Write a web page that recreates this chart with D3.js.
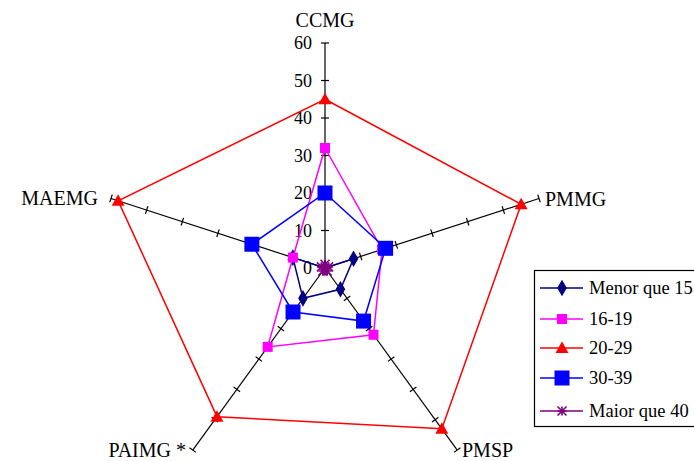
<!DOCTYPE html>
<html>
<head>
<meta charset="utf-8">
<script src="https://cdn.jsdelivr.net/npm/d3@7/dist/d3.min.js"></script>
<style>
  html, body { margin: 0; padding: 0; background: #fff; }
  svg { display: block; font-family: "Liberation Serif", "Times New Roman", serif; }
</style>
</head>
<body>
<svg id="chart" width="694" height="461"></svg>
<script>
// Axes of the radar, clockwise from the top
const categories = ["CCMG", "PMMG", "PMSP", "PAIMG *", "MAEMG"];
const tickValues = [0, 10, 20, 30, 40, 50, 60];

// Series (age groups)
const seriesNames = ["Menor que 15", "16-19", "20-29", "30-39", "Maior que 40"];
const menorQue15 = [0, 8, 7, 10, 9];
const de16a19 = [32, 16, 22, 26, 9];
const de20a29 = [45, 55, 53, 49, 58];
const de30a39 = [20, 17, 17.5, 14.5, 20.5];
const maiorQue40 = [1, 1, 1, 1, 1];

const seriesValues = [menorQue15, de16a19, de20a29, de30a39, maiorQue40];
const seriesColors = ["#000080", "#ff00ff", "#ff0000", "#0000ff", "#800080"];
const seriesMarkers = ["diamond", "smallSquare", "triangle", "square", "star"];

const svg = d3.select("#chart");
const cx = 325, cy = 268;
const r = d3.scaleLinear().domain([0, 60]).range([0, 225]);
const angle = d3.scaleLinear().domain([0, categories.length]).range([0, 2 * Math.PI]);

function pt(i, v) {
  const a = angle(i);
  return [cx + r(v) * Math.sin(a), cy - r(v) * Math.cos(a)];
}

// Axis spokes with perpendicular ticks
const axes = svg.append("g").attr("stroke", "#000").attr("stroke-width", 1.2);
categories.forEach((c, i) => {
  const [x2, y2] = pt(i, 60);
  axes.append("line").attr("x1", cx).attr("y1", cy).attr("x2", x2).attr("y2", y2);
  const a = angle(i);
  const px = Math.cos(a), py = Math.sin(a); // perpendicular direction
  tickValues.slice(1).forEach(t => {
    const [tx, ty] = pt(i, t);
    axes.append("line")
      .attr("x1", tx - 4 * px).attr("y1", ty - 4 * py)
      .attr("x2", tx + 4 * px).attr("y2", ty + 4 * py);
  });
});

// Value labels along the top spoke
svg.append("g").selectAll("text").data(tickValues).join("text")
  .attr("x", cx - 13)
  .attr("y", d => cy - r(d))
  .attr("dy", "0.35em")
  .attr("text-anchor", "end")
  .attr("font-size", 18)
  .text(d => d);

// Category labels
const labelPos = [
  { x: 325, y: 20, anchor: "middle" },
  { x: 545, y: 199, anchor: "start" },
  { x: 462, y: 450, anchor: "start" },
  { x: 186, y: 450, anchor: "end" },
  { x: 98, y: 198, anchor: "end" }
];
svg.append("g").selectAll("text").data(categories).join("text")
  .attr("x", (d, i) => labelPos[i].x)
  .attr("y", (d, i) => labelPos[i].y)
  .attr("dy", "0.35em")
  .attr("text-anchor", (d, i) => labelPos[i].anchor)
  .attr("font-size", 20)
  .text(d => d);

// Marker drawing
function drawMarker(g, type, x, y, color) {
  if (type === "diamond") {
    g.append("path").attr("d", d3.symbol(d3.symbolDiamond, 80)())
      .attr("transform", `translate(${x},${y})`).attr("fill", color);
  } else if (type === "smallSquare") {
    g.append("rect").attr("x", x - 5).attr("y", y - 5).attr("width", 10).attr("height", 10).attr("fill", color);
  } else if (type === "square") {
    g.append("rect").attr("x", x - 7.5).attr("y", y - 7.5).attr("width", 15).attr("height", 15).attr("fill", color);
  } else if (type === "triangle") {
    g.append("path").attr("d", `M${x},${y - 6.5}L${x + 6.5},${y + 5}L${x - 6.5},${y + 5}Z`).attr("fill", color);
  } else if (type === "star") {
    const s = 4.5;
    g.append("path")
      .attr("d", `M${x},${y - s}V${y + s}M${x - s},${y - s}L${x + s},${y + s}M${x - s},${y + s}L${x + s},${y - s}M${x - s},${y}H${x + s}`)
      .attr("stroke", color).attr("stroke-width", 1.6).attr("fill", "none");
  }
}

// Series polygons and markers
const line = d3.line().curve(d3.curveLinearClosed);
seriesValues.forEach((vals, s) => {
  const g = svg.append("g");
  const pts = vals.map((v, i) => pt(i, v));
  g.append("path").attr("d", line(pts))
    .attr("fill", "none").attr("stroke", seriesColors[s]).attr("stroke-width", 1.5);
  pts.forEach(p => drawMarker(g, seriesMarkers[s], p[0], p[1], seriesColors[s]));
});

// Legend
const leg = svg.append("g");
leg.append("rect").attr("x", 534.5).attr("y", 270.5).attr("width", 170).attr("height", 156)
  .attr("fill", "#fff").attr("stroke", "#000").attr("stroke-width", 1.2);
const legY = [288, 319, 348, 378, 411];
seriesNames.forEach((n, s) => {
  const y = legY[s];
  leg.append("line").attr("x1", 540).attr("x2", 583).attr("y1", y).attr("y2", y)
    .attr("stroke", seriesColors[s]).attr("stroke-width", 1.5);
  drawMarker(leg, seriesMarkers[s], 562, y, seriesColors[s]);
  leg.append("text").attr("x", 589).attr("y", y).attr("dy", "0.35em")
    .attr("font-size", 18.5).text(n);
});
</script>
</body>
</html>
